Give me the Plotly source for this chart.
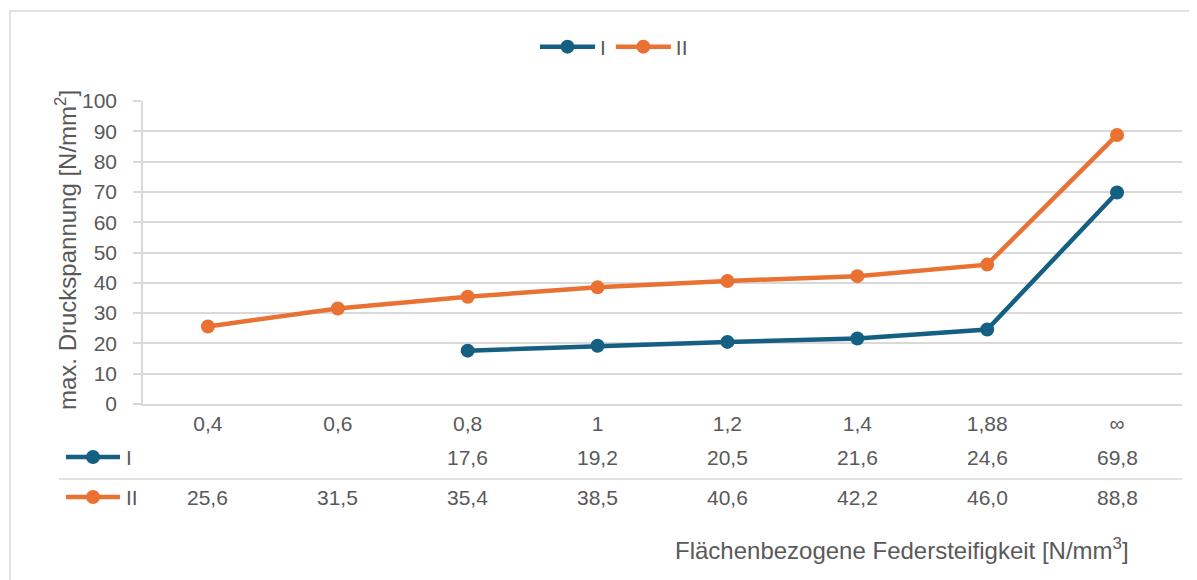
import plotly.graph_objects as go

# categories (Flächenbezogene Federsteifigkeit) and max. Druckspannung values
categories = ["0,4", "0,6", "0,8", "1", "1,2", "1,4", "1,88", "∞"]
series_i = [None, None, 17.6, 19.2, 20.5, 21.6, 24.6, 69.8]
series_ii = [25.6, 31.5, 35.4, 38.5, 40.6, 42.2, 46.0, 88.8]
series_names = ["I", "II"]

BLUE = "#156082"
ORANGE = "#E97132"
TEXT = "#595959"
GRID = "#d9d9d9"
FONT = "Liberation Sans, Arial, sans-serif"

# the page body has an 8px margin, so the figure is shrunk by that amount
OFF = 8
W, H = 1197 - OFF, 580 - OFF
# plot area in page pixels
L, R, T, B = 143, 1182, 101, 404


def px_x(X):
    return (X - L) / (R - L)


def px_y(Y):
    return (B - Y) / (B - T)


def fmt(v):
    return f"{v:.1f}".replace(".", ",")


fig = go.Figure()
for name, vals, col in [("I", series_i, BLUE), ("II", series_ii, ORANGE)]:
    fig.add_trace(go.Scatter(
        x=categories, y=vals, name=name, mode="lines+markers",
        line=dict(color=col, width=4.5),
        marker=dict(color=col, size=14),
        connectgaps=False,
    ))

annotations = []
shapes = []

# data table below the axis
rows = [(series_i, BLUE, 457), (series_ii, ORANGE, 497)]
for (vals, col, ypx), name in zip(rows, series_names):
    for i, v in enumerate(vals):
        if v is None:
            continue
        annotations.append(dict(
            x=i, y=px_y(ypx), xref="x", yref="paper", text=fmt(v),
            showarrow=False, font=dict(size=21, color=TEXT, family=FONT),
            xanchor="center", yanchor="middle",
        ))
    # legend key in the table
    shapes.append(dict(type="line", xref="paper", yref="paper",
                       x0=px_x(66), x1=px_x(120), y0=px_y(ypx), y1=px_y(ypx),
                       line=dict(color=col, width=4.5)))
    shapes.append(dict(type="circle", xref="paper", yref="paper",
                       x0=px_x(86), x1=px_x(100), y0=px_y(ypx - 7), y1=px_y(ypx + 7),
                       fillcolor=col, line=dict(color=col, width=0)))
    annotations.append(dict(
        x=px_x(124), y=px_y(ypx), xref="paper", yref="paper", text=name,
        showarrow=False, font=dict(size=21, color=TEXT, family=FONT),
        xanchor="left", yanchor="middle",
    ))

# separator line between the table rows
shapes.append(dict(type="line", xref="paper", yref="paper",
                   x0=px_x(59), x1=1, y0=px_y(479), y1=px_y(479),
                   line=dict(color=GRID, width=1.5)))
# outer chart border
shapes.append(dict(type="rect", xref="paper", yref="paper",
                   x0=px_x(10), x1=px_x(1230), y0=px_y(11), y1=px_y(620),
                   line=dict(color=GRID, width=1.5), layer="below"))

# axis titles
annotations.append(dict(
    x=px_x(1131), y=px_y(549), xref="paper", yref="paper",
    text="Flächenbezogene Federsteifigkeit [N/mm<sup>3</sup>]",
    showarrow=False, font=dict(size=24, color=TEXT, family=FONT),
    xanchor="right", yanchor="middle",
))
annotations.append(dict(
    x=px_x(66), y=px_y(250), xref="paper", yref="paper",
    text="max. Druckspannung [N/mm<sup>2</sup>]", textangle=-90,
    showarrow=False, font=dict(size=24, color=TEXT, family=FONT),
    xanchor="center", yanchor="middle",
))

fig.update_layout(
    width=W, height=H,
    paper_bgcolor="white", plot_bgcolor="white",
    margin=dict(l=L - OFF, r=W + OFF - R, t=T - OFF, b=H + OFF - B),
    font=dict(family=FONT, color=TEXT, size=21),
    xaxis=dict(type="category", categoryorder="array", categoryarray=categories,
               range=[-0.5, len(categories) - 0.5],
               showline=True, linecolor=GRID, linewidth=1.5,
               showgrid=False, ticks="", tickfont=dict(size=21, color=TEXT)),
    yaxis=dict(range=[0, 100], dtick=10, showline=True, linecolor=GRID, linewidth=1.5,
               gridcolor=GRID, gridwidth=1.5, zeroline=False,
               ticks="outside", ticklen=8, tickcolor=GRID, tickwidth=1.5,
               ticklabelstandoff=12, tickfont=dict(size=21, color=TEXT)),
    legend=dict(orientation="h", xref="container", yref="container",
                x=(535 - OFF) / W, y=1 - (47 - OFF) / H, xanchor="left", yanchor="middle",
                itemwidth=55, font=dict(size=21, color=TEXT)),
    annotations=annotations,
    shapes=shapes,
)

fig.write_html("out.html")
